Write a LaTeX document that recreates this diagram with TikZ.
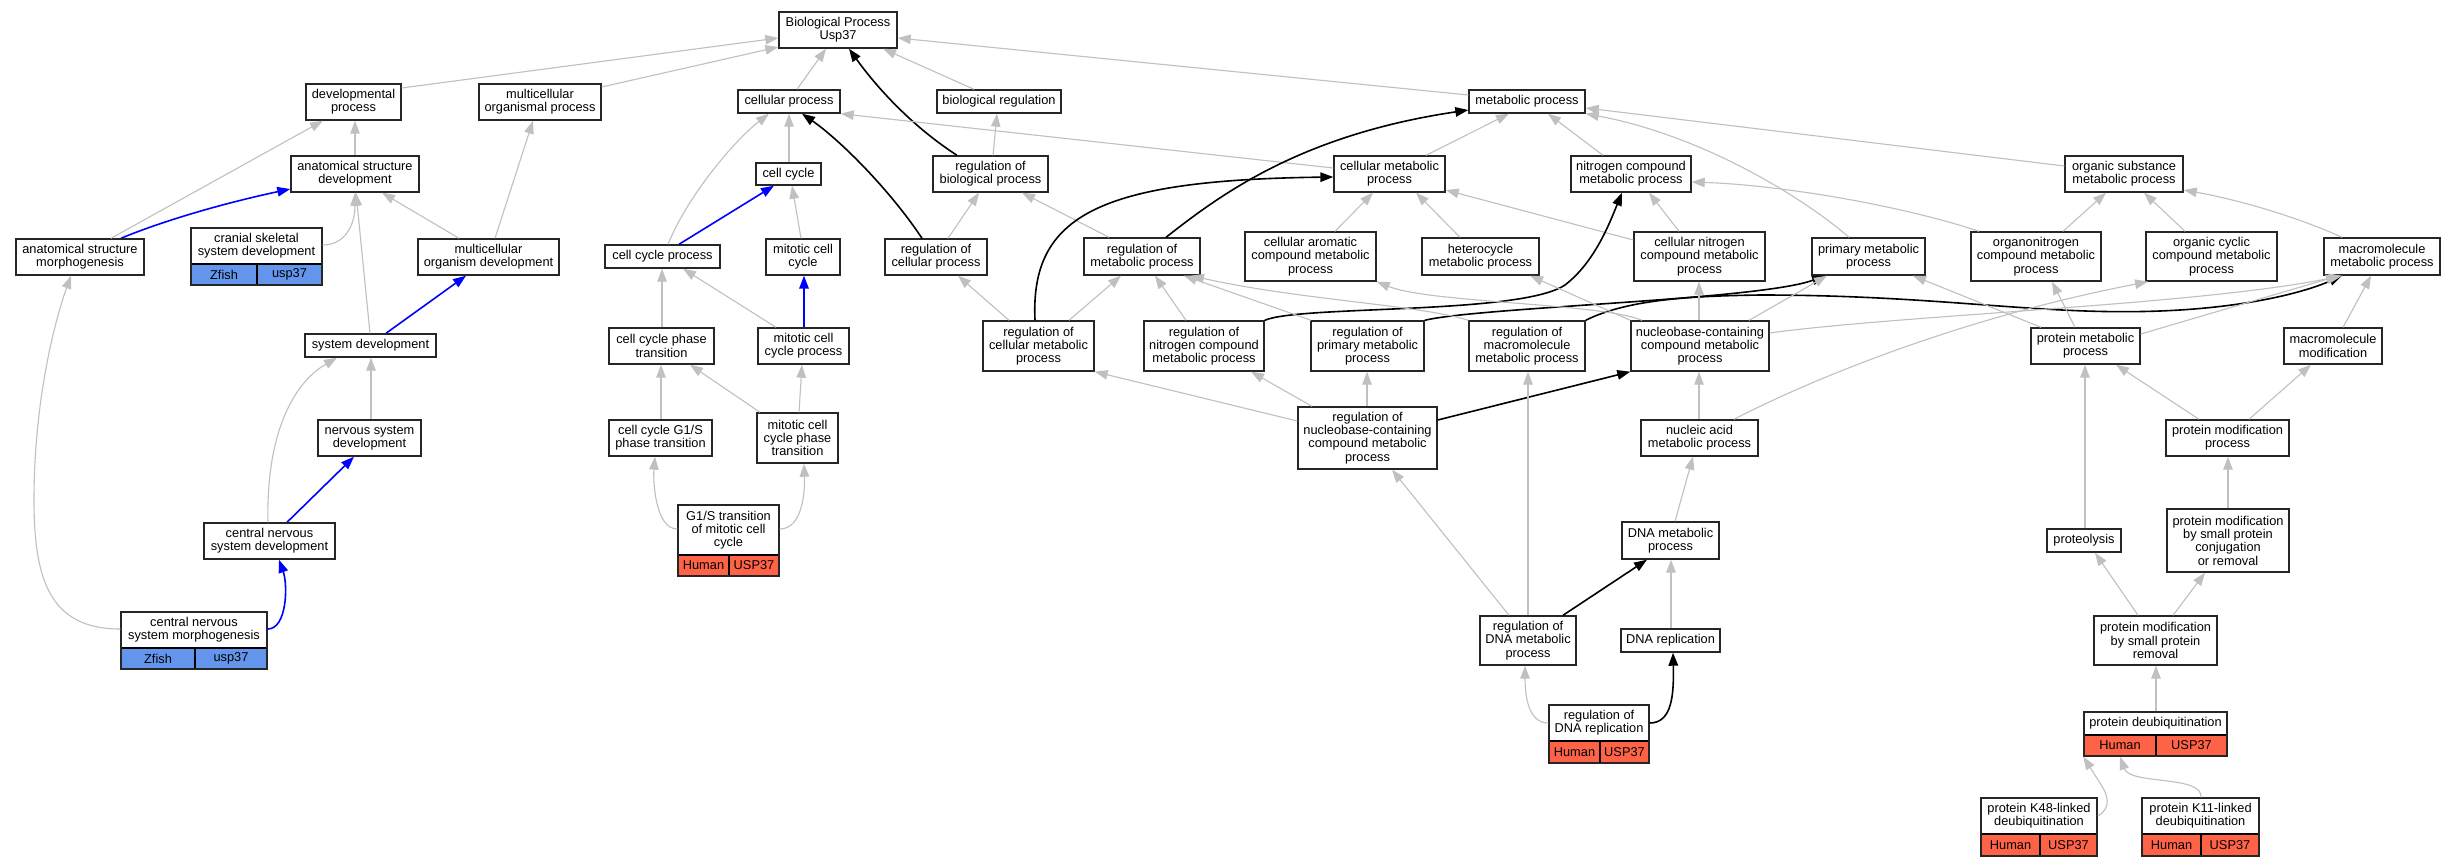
\documentclass[tikz,border=0pt]{standalone}
\usepackage{fontspec}
\setmainfont{Liberation Sans}
\usetikzlibrary{arrows.meta}
\definecolor{edgegray}{HTML}{C0C0C0}
\definecolor{zfblue}{HTML}{6495ED}
\definecolor{hured}{HTML}{FF6347}
\newcommand\gvlabelfont{\fontsize{12.8pt}{13.3pt}\selectfont}
\tikzset{
 gbox/.style={draw=black!85, line width=1.4pt, fill=white, rectangle, inner sep=0pt, align=center, font=\gvlabelfont},
 lbl/.style={inner sep=0pt, align=center, font=\gvlabelfont},
 ge/.style={draw=edgegray, line width=1.1pt, -{Triangle[length=13pt,width=9.5pt]}},
 be/.style={draw=blue, line width=1.6pt, -{Triangle[length=13pt,width=9.5pt]}},
 ke/.style={draw=black, line width=1.6pt, -{Triangle[length=13pt,width=9.5pt]}},
}
\newcommand\gvnode[6]{\node[gbox, minimum width={(#4-#2)*1pt}, minimum height={(#5-#3)*1pt}] (#1) at ({(#2+#4)/2},{(#3+#5)/2}) {#6};}
\newcommand\gvannot[9]{%
 \node[gbox, minimum width={(#4-#2)*1pt}, minimum height={(#5-#3)*1pt}] (#1) at ({(#2+#4)/2},{(#3+#5)/2}) {};
 \fill[#9] (#2,#6) rectangle (#4,#5);
 \draw[black, line width=1.2pt] (#2,#6) -- (#4,#6) (#7,#6) -- (#7,#5);
 \draw[black!85, line width=1.4pt] (#2,#3) rectangle (#4,#5);
 \node[lbl] (#1t) at ({(#2+#4)/2},{(#3+#6)/2}) {#8};
 \node[lbl] (#1s) at ({(#2+#7)/2},{(#6+#5)/2}) {\gvspec};
 \node[lbl] (#1g) at ({(#7+#4)/2},{(#6+#5)/2}) {\gvgene};
}
\newcommand\gvZ[8]{\def\gvspec{Zfish}\def\gvgene{usp37}\gvannot{#1}{#2}{#3}{#4}{#5}{#6}{#7}{#8}{zfblue}}
\newcommand\gvH[8]{\def\gvspec{Human}\def\gvgene{USP37}\gvannot{#1}{#2}{#3}{#4}{#5}{#6}{#7}{#8}{hured}}
\begin{document}
\begin{tikzpicture}[x=1pt,y=-1pt]
\fill[white] (0,0) rectangle (2455,867);
\useasboundingbox (0,0) rectangle (2455,867);
% nodes
\gvnode{bp}{779}{12}{897}{48}{Biological Process\\Usp37}
\gvnode{dev}{306}{84}{401}{120}{developmental\\process}
\gvnode{mop}{479}{84}{601}{120}{multicellular\\organismal process}
\gvnode{cp}{738}{90}{840}{113}{cellular process}
\gvnode{breg}{937}{90}{1061}{113}{biological regulation}
\gvnode{mp}{1469}{90}{1585}{113}{metabolic process}
\gvnode{asd}{291}{156}{419}{192}{anatomical structure\\development}
\gvnode{cc}{756}{163}{821}{185}{cell cycle}
\gvnode{rbp}{933}{156}{1048}{192}{regulation of\\biological process}
\gvnode{cmp}{1334}{156}{1445}{192}{cellular metabolic\\process}
\gvnode{ncmp}{1571}{156}{1691}{192}{nitrogen compound\\metabolic process}
\gvnode{osmp}{2065}{156}{2183}{192}{organic substance\\metabolic process}
\gvnode{asm}{16}{239}{144}{275}{anatomical structure\\morphogenesis}
\gvZ{csd}{191}{228}{322}{285}{264}{257}{cranial skeletal\\system development}
\gvnode{mod}{418}{239}{559}{275}{multicellular\\organism development}
\gvnode{ccp}{605}{245}{720}{268}{cell cycle process}
\gvnode{mcc}{766}{239}{840}{275}{mitotic cell\\cycle}
\gvnode{rcp}{885}{239}{987}{275}{regulation of\\cellular process}
\gvnode{rmp}{1084}{238}{1200}{275}{regulation of\\metabolic process}
\gvnode{cacmp}{1245}{232}{1376}{281}{cellular aromatic\\compound metabolic\\process}
\gvnode{hmp}{1422}{238}{1539}{275}{heterocycle\\metabolic process}
\gvnode{cncmp}{1634}{232}{1765}{281}{cellular nitrogen\\compound metabolic\\process}
\gvnode{pmp}{1812}{238}{1925}{275}{primary metabolic\\process}
\gvnode{oncmp}{1971}{232}{2101}{281}{organonitrogen\\compound metabolic\\process}
\gvnode{occmp}{2146}{232}{2277}{281}{organic cyclic\\compound metabolic\\process}
\gvnode{mmp}{2324}{238}{2440}{275}{macromolecule\\metabolic process}
\gvnode{sd}{305}{334}{436}{357}{system development}
\gvnode{ccpt}{609}{328}{714}{364}{cell cycle phase\\transition}
\gvnode{mccp}{758}{328}{849}{364}{mitotic cell\\cycle process}
\gvnode{rcmp}{983}{321}{1094}{371}{regulation of\\cellular metabolic\\process}
\gvnode{rncmp}{1144}{321}{1264}{371}{regulation of\\nitrogen compound\\metabolic process}
\gvnode{rpmp}{1311}{321}{1424}{371}{regulation of\\primary metabolic\\process}
\gvnode{rmmp}{1469}{321}{1585}{371}{regulation of\\macromolecule\\metabolic process}
\gvnode{nbcmp}{1631}{321}{1769}{371}{nucleobase-containing\\compound metabolic\\process}
\gvnode{prmp}{2031}{328}{2140}{364}{protein metabolic\\process}
\gvnode{mm}{2284}{328}{2382}{364}{macromolecule\\modification}
\gvnode{nsd}{318}{420}{421}{456}{nervous system\\development}
\gvnode{g1s}{609}{420}{712}{456}{cell cycle G1/S\\phase transition}
\gvnode{mccpt}{757}{413}{838}{463}{mitotic cell\\cycle phase\\transition}
\gvnode{rnbc}{1298}{407}{1437}{469}{regulation of\\nucleobase-containing\\compound metabolic\\process}
\gvnode{namp}{1641}{420}{1758}{456}{nucleic acid\\metabolic process}
\gvnode{pmproc}{2166}{420}{2289}{456}{protein modification\\process}
\gvH{g1smcc}{678}{505}{779}{576}{555}{729}{G1/S transition\\of mitotic cell\\cycle}
\gvnode{cnsd}{204}{523}{335}{559}{central nervous\\system development}
\gvnode{dnamp}{1622}{522}{1719}{559}{DNA metabolic\\process}
\gvnode{pmsp}{2167}{509}{2289}{572}{protein modification\\by small protein\\conjugation\\or removal}
\gvnode{prot}{2047}{529}{2121}{552}{proteolysis}
\gvZ{cnsm}{121}{612}{267}{669}{648}{195}{central nervous\\system morphogenesis}
\gvnode{rdnamp}{1480}{616}{1576}{665}{regulation of\\DNA metabolic\\process}
\gvnode{dnarep}{1621}{629}{1720}{652}{DNA replication}
\gvnode{pmspr}{2094}{616}{2217}{665}{protein modification\\by small protein\\removal}
\gvH{rdnarep}{1549}{705}{1649}{763}{741}{1600}{regulation of\\DNA replication}
\gvH{pdub}{2084}{712}{2227}{756}{735}{2156}{protein deubiquitination}
\gvH{k48}{1981}{798}{2097}{856}{834}{2040}{protein K48-linked\\deubiquitination}
\gvH{k11}{2142}{798}{2259}{856}{834}{2201}{protein K11-linked\\deubiquitination}
% edges left
\draw[ge] (dev.east |- 0,88) -- (bp.west |- 0,38);
\draw[ge] (mop.east |- 0,87) -- (bp.west |- 0,47);
\draw[ge] (asd.north -| 355,0) -- (dev.south -| 355,0);
\draw[ge] (asm.north -| 111,0) -- (dev.south -| 323,0);
\draw[be] (asm.north -| 121,0) .. controls (160,222) and (220,204) .. (asd.west |- 0,189);
\draw[ge] (csd.east |- 0,245) .. controls (345,245) and (355,225) .. (asd.south -| 355,0);
\draw[ge] (sd.north -| 370,0) -- (asd.south -| 356,0);
\draw[ge] (mod.north -| 459,0) -- (asd.south -| 382,0);
\draw[ge] (mod.north -| 495,0) -- (mop.south -| 533,0);
\draw[be] (sd.north -| 386,0) -- (mod.south -| 466,0);
\draw[ge] (nsd.north -| 371,0) -- (sd.south -| 371,0);
\draw[ge] (cnsd.north -| 268,0) .. controls (266,440) and (290,385) .. (sd.south -| 337,0);
\draw[be] (cnsd.north -| 287,0) -- (nsd.south -| 354,0);
\draw[be] (cnsm.east |- 0,629) .. controls (287,629) and (288,585) .. (cnsd.south -| 279,0);
\draw[ge] (cnsm.west |- 0,629) .. controls (50,629) and (34,580) .. (34,500) .. controls (34,400) and (55,320) .. (asm.south -| 71,0);
% edges middle
\draw[ge] (cp.north -| 797,0) -- (bp.south -| 826,0);
\draw[ke] (rbp.north -| 957,0) .. controls (910,125) and (875,85) .. (bp.south -| 849,0);
\draw[ge] (breg.north -| 974,0) -- (bp.south -| 883,0);
\draw[ge] (mp.west |- 0,95) -- (bp.east |- 0,38);
\draw[ge] (ccp.north -| 668,0) .. controls (688,195) and (735,140) .. (cp.south -| 769,0);
\draw[ge] (cc.north -| 789,0) -- (cp.south -| 789,0);
\draw[ke] (rcp.north -| 922,0) .. controls (890,190) and (840,140) .. (cp.south -| 802,0);
\draw[ge] (cmp.west |- 0,168) -- (cp.south east);
\draw[be] (ccp.north -| 679,0) -- (cc.south -| 774,0);
\draw[ge] (mcc.north -| 801,0) -- (cc.south -| 792,0);
\draw[ge] (rcp.north -| 948,0) -- (rbp.south -| 979,0);
\draw[ge] (rbp.north -| 993,0) -- (breg.south -| 997,0);
\draw[ge] (rmp.north -| 1109,0) -- (rbp.south -| 1022,0);
\draw[ge] (rcmp.north -| 1009,0) -- (rcp.south -| 958,0);
\draw[ke] (rcmp.north -| 1035,0) .. controls (1030,215) and (1100,180) .. (cmp.west |- 0,177);
\draw[ge] (rcmp.north -| 1069,0) -- (rmp.south -| 1121,0);
\draw[ge] (mccp.north -| 776,0) -- (ccp.south -| 683,0);
\draw[ge] (ccpt.north -| 662,0) -- (ccp.south -| 662,0);
\draw[be] (mccp.north -| 804,0) -- (mcc.south -| 804,0);
\draw[ge] (g1s.north -| 661,0) -- (ccpt.south -| 661,0);
\draw[ge] (mccpt.north -| 760,0) -- (ccpt.south -| 690,0);
\draw[ge] (mccpt.north -| 799,0) -- (mccp.south -| 802,0);
\draw[ge] (g1smcc.west |- 0,529) .. controls (655,529) and (653,480) .. (g1s.south -| 655,0);
\draw[ge] (g1smcc.east |- 0,529) .. controls (803,529) and (805,490) .. (mccpt.south -| 804,0);
% edges right
\draw[ge] (cmp.north -| 1426,0) -- (mp.south -| 1509,0);
\draw[ge] (ncmp.north -| 1603,0) -- (mp.south -| 1548,0);
\draw[ge] (osmp.west |- 0,166) -- (mp.east |- 0,108);
\draw[ge] (pmp.north -| 1849,0) .. controls (1800,195) and (1700,135) .. (mp.south east);
\draw[ke] (rmp.north -| 1166,0) .. controls (1220,195) and (1300,135) .. (mp.west |- 0,110);
\draw[ge] (cacmp.north -| 1335,0) -- (cmp.south -| 1373,0);
\draw[ge] (hmp.north -| 1460,0) -- (cmp.south -| 1416,0);
\draw[ge] (cncmp.west |- 0,240) -- (cmp.east |- 0,190);
\draw[ge] (rncmp.north -| 1186,0) -- (rmp.south -| 1155,0);
\draw[ke] (rncmp.north east) .. controls (1300,305) and (1520,315) .. (1565,285) .. controls (1595,262) and (1610,222) .. (ncmp.south -| 1622,0);
\draw[ge] (rpmp.north -| 1311,0) -- (rmp.south -| 1184,0);
\draw[ke] (rpmp.north east) .. controls (1480,307) and (1760,300) .. (pmp.south -| 1825,0);
\draw[ge] (rmmp.north west) .. controls (1420,305) and (1300,300) .. (rmp.south -| 1191,0);
\draw[ke] (rmmp.north east) .. controls (1630,298) and (1700,296) .. (1760,295) .. controls (1950,295) and (2050,318) .. (2180,310) .. controls (2260,305) and (2310,290) .. (mmp.south -| 2342,0);
\draw[ke] (rnbc.east |- 0,420) -- (nbcmp.south west);
\draw[ge] (rnbc.west |- 0,421) -- (rcmp.south east);
\draw[ge] (rnbc.north -| 1312,0) -- (rncmp.south -| 1251,0);
\draw[ge] (rnbc.north -| 1367,0) -- (rpmp.south -| 1367,0);
\draw[ge] (rdnamp.north -| 1509,0) -- (rnbc.south -| 1392,0);
\draw[ge] (rdnamp.north -| 1528,0) -- (rmmp.south -| 1528,0);
\draw[ke] (rdnamp.north -| 1563,0) -- (dnamp.south -| 1647,0);
\draw[ge] (dnarep.north -| 1671,0) -- (dnamp.south -| 1671,0);
\draw[ge] (rdnarep.west |- 0,723) .. controls (1528,723) and (1525,695) .. (rdnamp.south -| 1525,0);
\draw[ke] (rdnarep.east |- 0,723) .. controls (1672,723) and (1674,695) .. (dnarep.south -| 1673,0);
\draw[ge] (dnamp.north -| 1675,0) -- (namp.south -| 1693,0);
\draw[ge] (namp.north -| 1699,0) -- (nbcmp.south -| 1699,0);
\draw[ge] (namp.north -| 1734,0) .. controls (1800,385) and (1950,320) .. (occmp.south -| 2148,0);
\draw[ge] (nbcmp.east |- 0,333) .. controls (1900,315) and (2200,305) .. (mmp.south -| 2342,0);
\draw[ge] (nbcmp.north -| 1699,0) -- (cncmp.south -| 1699,0);
\draw[ge] (nbcmp.north -| 1749,0) -- (pmp.south -| 1827,0);
\draw[ge] (nbcmp.north west) -- (hmp.south -| 1530,0);
\draw[ge] (nbcmp.north -| 1642,0) .. controls (1600,303) and (1430,303) .. (cacmp.south east);
\draw[ge] (cncmp.north -| 1679,0) -- (ncmp.south -| 1649,0);
\draw[ge] (oncmp.north -| 1979,0) .. controls (1900,205) and (1780,185) .. (ncmp.east |- 0,182);
\draw[ge] (oncmp.north -| 2063,0) -- (osmp.south -| 2106,0);
\draw[ge] (occmp.north -| 2185,0) -- (osmp.south -| 2144,0);
\draw[ge] (mmp.north -| 2342,0) .. controls (2300,218) and (2240,200) .. (osmp.east |- 0,190);
\draw[ge] (prmp.north -| 2041,0) -- (pmp.south -| 1913,0);
\draw[ge] (prmp.north -| 2075,0) -- (oncmp.south -| 2052,0);
\draw[ge] (prmp.east |- 0,334) -- (mmp.south -| 2339,0);
\draw[ge] (mm.north -| 2343,0) -- (mmp.south -| 2371,0);
\draw[ge] (pmproc.north -| 2199,0) -- (prmp.south -| 2116,0);
\draw[ge] (pmproc.north -| 2249,0) -- (mm.south -| 2311,0);
\draw[ge] (prot.north -| 2085,0) -- (prmp.south -| 2085,0);
\draw[ge] (pmsp.north -| 2228,0) -- (pmproc.south -| 2228,0);
\draw[ge] (pmspr.north -| 2138,0) -- (prot.south -| 2095,0);
\draw[ge] (pmspr.north -| 2173,0) -- (pmsp.south -| 2205,0);
\draw[ge] (pdub.north -| 2156,0) -- (pmspr.south -| 2156,0);
\draw[ge] (k48.east |- 0,816) .. controls (2112,808) and (2108,795) .. (2100,783) -- (pdub.south west);
\draw[ge] (k11.north -| 2201,0) .. controls (2203,775) and (2130,785) .. (pdub.south -| 2120,0);
\end{tikzpicture}
\end{document}
